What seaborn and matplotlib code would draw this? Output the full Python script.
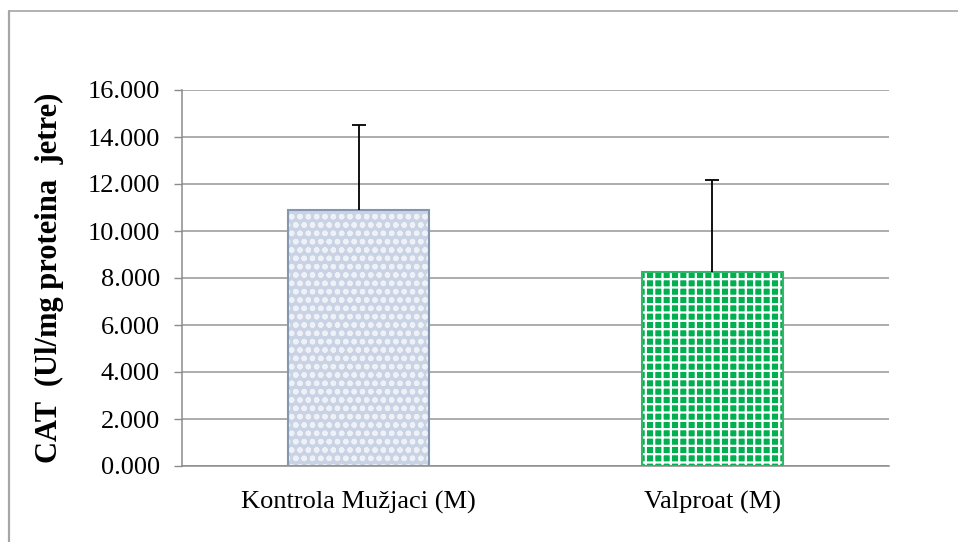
import matplotlib
matplotlib.use("Agg")
import matplotlib.pyplot as plt
import seaborn as sns
import pandas as pd
from matplotlib.lines import Line2D

# data
groups = ["Kontrola Mužjaci (M)", "Valproat (M)"]
means = [10.89, 8.26]
sd = [3.62, 3.91]
fills = ["#c9d3e3", "#00b050"]
hatch_cols = ["#eef1f7", "#ffffff"]
edges = ["#8496b0", "#2fb868"]

df = pd.DataFrame({"group": groups, "cat": means})

sns.set_style("white")
plt.rcParams["font.family"] = ["Liberation Serif", "DejaVu Serif"]
plt.rcParams["hatch.linewidth"] = 1.6
plt.rcParams["text.color"] = "black"
plt.rcParams["axes.labelcolor"] = "black"
plt.rcParams["xtick.labelcolor"] = "black"
plt.rcParams["ytick.labelcolor"] = "black"

fig = plt.figure(figsize=(9.58, 5.42), dpi=100)
ax = fig.add_axes([182 / 958, 1 - 466 / 542, 707 / 958, 376 / 542])

sns.barplot(data=df, x="group", y="cat", width=0.40, ax=ax, zorder=3)

for i, p in enumerate(ax.patches):
    p.set_facecolor(fills[i])
    p.set_edgecolor(hatch_cols[i])
    p.set_hatch("oo" if i == 0 else "++")
    p.set_linewidth(0)
    # outline drawn separately so the hatch can keep its own colour
    ax.add_patch(plt.Rectangle(p.get_xy(), p.get_width(), p.get_height(),
                               fill=False, edgecolor=edges[i], lw=1.5, zorder=4))

eb = ax.errorbar(range(len(groups)), means, yerr=[[0] * len(sd), sd], fmt="none",
                 ecolor="black", elinewidth=1.3, capsize=5, capthick=1.3, zorder=5)
eb[1][0].set_visible(False)  # only the upper cap

ax.set_ylim(0, 16)
ax.set_xlim(-0.5, 1.5)
ax.set_yticks(range(0, 17, 2))
ax.set_yticklabels([f"{v:.3f}" for v in range(0, 17, 2)])
ax.yaxis.grid(True, color="#969696", lw=1.1, zorder=0)
ax.set_axisbelow(True)
for s in ["top", "right"]:
    ax.spines[s].set_visible(False)
for s in ["bottom", "left"]:
    ax.spines[s].set_color("#8c8c8c")
    ax.spines[s].set_linewidth(1.1)

ax.set_xticks([0.5, 1.5], minor=True)
ax.tick_params(axis="x", which="minor", length=7, color="#8c8c8c", width=1)
ax.tick_params(axis="x", which="major", length=0, pad=18, labelsize=19)
ax.tick_params(axis="y", length=6, color="#8c8c8c", width=1, labelsize=19, pad=10,
               left=True)
ax.set_xlabel("")
ax.set_ylabel("CAT  (Ul/mg proteina  jetre)", fontsize=22, fontweight="bold")
ax.yaxis.set_label_coords(-(182 - 64) / 707, 0.5)

# outer chart frame (top and left edges visible)
fig.add_artist(Line2D([8.5 / 958, 1], [1 - 11 / 542, 1 - 11 / 542],
                      transform=fig.transFigure, color="#a6a6a6", lw=1.2))
fig.add_artist(Line2D([8.5 / 958, 8.5 / 958], [0, 1 - 11 / 542],
                      transform=fig.transFigure, color="#a6a6a6", lw=1.6))

fig.savefig("out.png", dpi=100)
